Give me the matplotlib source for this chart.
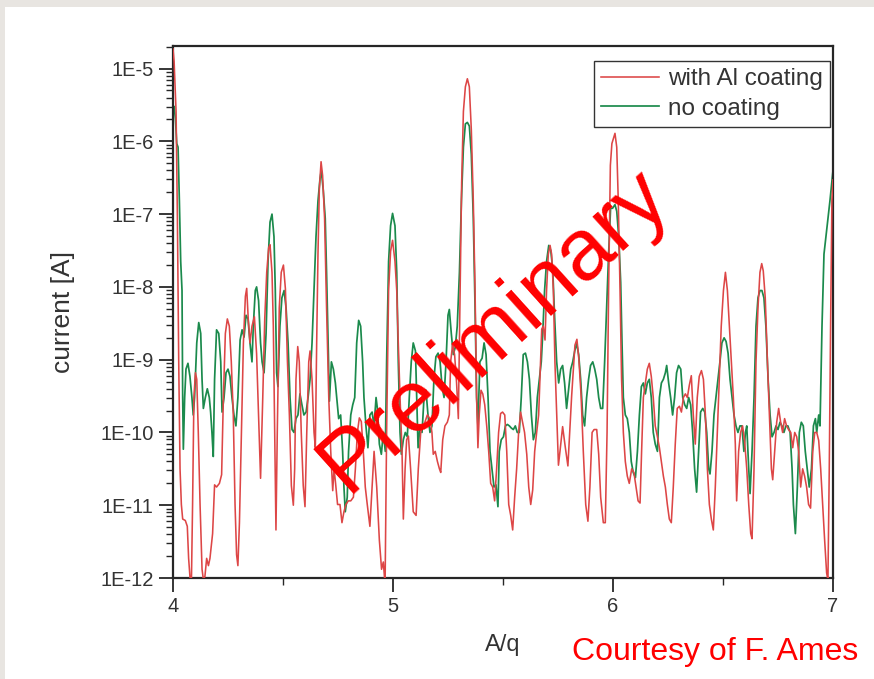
import numpy as np
import matplotlib
matplotlib.use("Agg")
import matplotlib.pyplot as plt
from matplotlib.patches import Rectangle

plt.rcParams['font.family'] = ['Liberation Sans', 'DejaVu Sans']

# ---------------- data (A/q, log10 of current in A) ----------------
red_aq = [
    4.000, 4.005, 4.014, 4.020, 4.026, 4.032, 4.038, 4.044, 4.056, 4.065, 4.071, 4.077, 4.083, 4.089, 4.095,
    4.102, 4.108, 4.115, 4.123, 4.132, 4.138, 4.145, 4.153, 4.161, 4.168, 4.180, 4.189, 4.198, 4.211, 4.221,
    4.229, 4.238, 4.247, 4.256, 4.265, 4.274, 4.282, 4.289, 4.295, 4.302, 4.311, 4.320, 4.329, 4.335, 4.342,
    4.350, 4.359, 4.370, 4.380, 4.389, 4.398, 4.408, 4.417, 4.426, 4.435, 4.441, 4.450, 4.456, 4.462, 4.468,
    4.474, 4.483, 4.492, 4.502, 4.511, 4.520, 4.529, 4.538, 4.547, 4.553, 4.559, 4.567, 4.574, 4.583, 4.592,
    4.600, 4.608, 4.617, 4.623, 4.632, 4.641, 4.647, 4.653, 4.659, 4.665, 4.673, 4.680, 4.689, 4.698, 4.708,
    4.717, 4.726, 4.732, 4.739, 4.748, 4.759, 4.768, 4.777, 4.786, 4.797, 4.808, 4.820, 4.829, 4.838, 4.847,
    4.856, 4.865, 4.874, 4.883, 4.895, 4.905, 4.914, 4.926, 4.938, 4.948, 4.956, 4.964, 4.971, 4.980, 4.989,
    4.998,
    5.009, 5.017, 5.024, 5.032, 5.041, 5.047, 5.055, 5.062, 5.070, 5.080, 5.092, 5.105, 5.115, 5.126,
    5.135, 5.145, 5.156, 5.168, 5.177, 5.183, 5.192, 5.202, 5.211, 5.217, 5.226, 5.236, 5.247, 5.256, 5.262,
    5.271, 5.280, 5.289, 5.297, 5.305, 5.312, 5.320, 5.329, 5.338, 5.347, 5.356, 5.365, 5.373, 5.380, 5.386,
    5.392, 5.400, 5.408, 5.417, 5.426, 5.435, 5.444, 5.453, 5.462, 5.471, 5.480, 5.489, 5.498, 5.508, 5.517,
    5.526, 5.535, 5.544, 5.553, 5.562, 5.571, 5.580, 5.589, 5.598, 5.608, 5.617, 5.626, 5.635, 5.644, 5.653,
    5.662, 5.668, 5.676, 5.683, 5.691, 5.698, 5.706, 5.714, 5.721, 5.729, 5.736, 5.744, 5.752, 5.759, 5.771,
    5.783, 5.795, 5.812, 5.827, 5.836, 5.845, 5.855, 5.865, 5.876, 5.886, 5.895, 5.905, 5.914, 5.926, 5.935,
    5.944, 5.956, 5.965, 5.973, 5.980, 5.988, 5.995,
    6.009, 6.017, 6.024, 6.032, 6.039, 6.047, 6.056, 6.065, 6.074, 6.085, 6.095, 6.105, 6.114,
    6.123, 6.130, 6.138, 6.147, 6.156, 6.165, 6.174, 6.183, 6.192, 6.202, 6.211, 6.220, 6.229, 6.238, 6.247,
    6.256, 6.265, 6.274, 6.283, 6.292, 6.302, 6.311, 6.320, 6.329, 6.338, 6.347, 6.356, 6.365, 6.374, 6.383,
    6.392, 6.402, 6.411, 6.420, 6.429, 6.438, 6.447, 6.456, 6.465, 6.474, 6.483, 6.492, 6.502, 6.511, 6.520,
    6.529, 6.538, 6.547, 6.556, 6.562, 6.571, 6.580, 6.589, 6.598, 6.608, 6.617, 6.626, 6.632, 6.641, 6.650,
    6.659, 6.668, 6.676, 6.683, 6.692, 6.702, 6.711, 6.720, 6.726, 6.735, 6.744, 6.753, 6.762, 6.771, 6.780,
    6.789, 6.798, 6.808, 6.817, 6.826, 6.835, 6.844, 6.853, 6.862, 6.871, 6.880, 6.889, 6.898, 6.908, 6.917,
    6.926, 6.935, 6.944, 6.953, 6.962, 6.971, 6.977, 6.983, 6.989, 6.995, 7.000,
]
red_log_current = [
    -4.73, -4.90, -5.59, -7.06, -9.03, -10.50, -10.99, -11.19, -11.21, -11.29, -11.73, -11.98, -12.2, -10.99, -9.52,
    -9.18, -9.27, -10.0, -10.99, -11.88, -12.02, -11.98, -11.73, -11.83, -11.73, -11.39, -10.72, -10.75, -10.70, -10.58,
    -9.52, -8.64, -8.44, -8.54, -9.03, -9.76, -10.99, -11.68, -11.83, -11.24, -10.0, -8.77, -8.13, -8.02, -8.44,
    -8.77, -8.54, -8.41, -8.92, -9.76, -10.63, -9.52, -8.44, -7.80, -7.46, -7.42, -7.80, -8.54, -10.0, -11.34,
    -10.0, -8.29, -7.80, -7.70, -8.03, -9.01, -9.76, -10.73, -11.0, -10.5, -9.27, -8.82, -9.03, -10.0, -10.73,
    -11.02, -10.0, -9.03, -8.88, -9.27, -10.0, -10.21, -8.78, -7.55, -6.67, -6.28, -6.47, -7.06, -8.29, -9.52,
    -10.26, -10.80, -10.5, -10.70, -10.99, -10.99, -11.24, -11.09, -10.99, -10.94, -10.94, -10.89, -10.50, -10.0, -9.80,
    -9.85, -10.26, -10.75, -10.99, -11.29, -10.75, -10.26, -10.75, -11.48, -11.88, -11.78, -12.1, -10.0, -8.05, -7.51,
    -7.36,
    -7.65, -8.05, -8.77, -9.52, -10.26, -11.19, -10.5, -10.1, -10.05, -10.5, -11.09, -11.14, -10.5, -10.0,
    -9.91, -9.86, -9.76, -9.81, -10.0, -10.3, -10.26, -10.40, -10.5, -10.55, -10.1, -9.91, -9.86, -9.76, -9.03,
    -8.79, -8.93, -9.32, -9.81, -8.05, -6.57, -5.59, -5.25, -5.14, -5.25, -5.84, -6.82, -8.05, -9.52, -10.21,
    -9.76, -9.42, -9.47, -9.62, -9.91, -10.26, -10.70, -10.75, -10.94, -10.5, -10.0, -9.74, -9.72, -9.76, -10.26,
    -10.99, -11.14, -11.34, -10.89, -10.5, -10.0, -9.72, -9.86, -10.0, -10.3, -10.75, -10.99, -10.79, -10.26, -10.0,
    -9.76, -9.27, -8.58, -8.54, -8.73, -8.05, -7.55, -7.43, -7.55, -8.05, -9.03, -9.76, -10.45, -10.26, -9.92,
    -10.2, -10.46, -9.5, -8.8, -8.72, -9.0, -9.5, -10.26, -10.99, -11.22, -10.75, -10.0, -9.96, -9.96, -10.3,
    -10.89, -11.24, -11.24, -10.0, -8.05, -6.33, -6.03,
    -5.89, -6.08, -6.82, -8.05, -9.27, -10.0, -10.4, -10.6, -10.7, -10.5, -10.55, -10.75, -10.94,
    -10.97, -10.26, -9.52, -9.32, -9.13, -9.05, -9.23, -9.52, -9.91, -10.06, -10.21, -10.4, -10.6, -10.75, -10.99,
    -11.19, -11.24, -10.75, -10.16, -9.67, -9.64, -9.72, -9.52, -9.47, -9.52, -9.35, -9.22, -9.76, -10.16, -9.52,
    -9.23, -9.15, -9.27, -9.76, -10.5, -10.99, -11.19, -11.34, -10.75, -10.0, -9.27, -8.54, -8.05, -7.80, -8.05,
    -8.54, -9.03, -9.52, -10.16, -10.94, -10.26, -10.0, -9.91, -10.11, -10.5, -10.99, -11.39, -11.46, -10.5, -9.03,
    -8.29, -7.80, -7.68, -7.78, -8.15, -9.03, -9.76, -10.5, -10.65, -10.26, -9.86, -9.67, -9.86, -10.0, -9.81,
    -9.91, -9.96, -10.0, -10.21, -10.0, -10.06, -10.26, -10.75, -10.5, -10.6, -10.75, -10.99, -11.04, -10.26, -10.0,
    -10.0, -10.11, -10.5, -10.99, -11.48, -11.93, -12.03, -10.5, -8.54, -6.82, -6.53,
]

green_aq = [
    4.000, 4.005, 4.011, 4.017, 4.023, 4.029, 4.035, 4.041, 4.044, 4.047, 4.053, 4.059, 4.068, 4.077, 4.086,
    4.092, 4.098, 4.108, 4.117, 4.126, 4.132, 4.138, 4.147, 4.156, 4.165, 4.171, 4.177, 4.183, 4.189, 4.198,
    4.208, 4.217, 4.223, 4.232, 4.241, 4.250, 4.259, 4.268, 4.277, 4.286, 4.295, 4.305, 4.314, 4.323, 4.332,
    4.341, 4.350, 4.359, 4.365, 4.374, 4.380, 4.389, 4.398, 4.405, 4.414, 4.423, 4.432, 4.441, 4.450, 4.459,
    4.465, 4.471, 4.477, 4.486, 4.495, 4.505, 4.514, 4.523, 4.532, 4.541, 4.550, 4.559, 4.568, 4.577, 4.586,
    4.595, 4.605, 4.614, 4.623, 4.632, 4.641, 4.650, 4.659, 4.668, 4.674, 4.683, 4.692, 4.698, 4.705, 4.711,
    4.720, 4.729, 4.738, 4.744, 4.753, 4.762, 4.771, 4.777, 4.783, 4.792, 4.798, 4.808, 4.817, 4.826, 4.835,
    4.844, 4.853, 4.862, 4.868, 4.877, 4.886, 4.895, 4.905, 4.914, 4.923, 4.929, 4.938, 4.947, 4.956, 4.965,
    4.971, 4.980, 4.989, 4.998,
    5.009, 5.017, 5.024, 5.032, 5.038, 5.047, 5.056, 5.065, 5.074, 5.083, 5.092, 5.102, 5.108, 5.114,
    5.123, 5.132, 5.141, 5.150, 5.159, 5.168, 5.177, 5.186, 5.195, 5.205, 5.214, 5.223, 5.232, 5.241, 5.250,
    5.256, 5.265, 5.274, 5.283, 5.292, 5.302, 5.311, 5.320, 5.329, 5.338, 5.347, 5.356, 5.365, 5.373, 5.380,
    5.386, 5.395, 5.405, 5.414, 5.423, 5.432, 5.441, 5.450, 5.459, 5.468, 5.477, 5.483, 5.492, 5.502, 5.511,
    5.520, 5.529, 5.538, 5.547, 5.556, 5.565, 5.574, 5.583, 5.592, 5.602, 5.611, 5.620, 5.629, 5.638, 5.647,
    5.656, 5.665, 5.674, 5.680, 5.689, 5.698, 5.708, 5.717, 5.726, 5.735, 5.744, 5.753, 5.762, 5.771, 5.780,
    5.789, 5.798, 5.808, 5.817, 5.826, 5.835, 5.844, 5.853, 5.862, 5.871, 5.880, 5.889, 5.898, 5.908, 5.917,
    5.926, 5.935, 5.944, 5.953, 5.962, 5.971, 5.980, 5.989, 5.998,
    6.009, 6.017, 6.026, 6.035, 6.041, 6.047, 6.056, 6.065, 6.074, 6.083, 6.092, 6.102, 6.111,
    6.120, 6.129, 6.138, 6.147, 6.156, 6.165, 6.174, 6.183, 6.192, 6.202, 6.211, 6.220, 6.229, 6.238, 6.244,
    6.253, 6.262, 6.271, 6.280, 6.289, 6.298, 6.308, 6.317, 6.326, 6.335, 6.344, 6.353, 6.362, 6.371, 6.380,
    6.389, 6.398, 6.408, 6.417, 6.426, 6.435, 6.441, 6.450, 6.459, 6.468, 6.477, 6.486, 6.495, 6.505, 6.514,
    6.523, 6.532, 6.541, 6.550, 6.559, 6.568, 6.577, 6.586, 6.595, 6.602, 6.608, 6.617, 6.623, 6.632, 6.641,
    6.650, 6.659, 6.668, 6.677, 6.686, 6.695, 6.705, 6.714, 6.723, 6.732, 6.741, 6.750, 6.759, 6.768, 6.777,
    6.786, 6.795, 6.805, 6.814, 6.820, 6.829, 6.838, 6.847, 6.856, 6.865, 6.874, 6.883, 6.892, 6.902, 6.911,
    6.920, 6.926, 6.935, 6.941, 6.950, 6.959, 6.968, 6.977, 6.986, 7.000,
]
green_log_current = [
    -5.54, -5.52, -5.69, -6.03, -6.08, -6.82, -7.65, -8.05, -9.52, -10.23, -9.52, -9.13, -9.05, -9.23, -9.52,
    -9.76, -9.52, -8.77, -8.49, -8.64, -9.27, -9.67, -9.52, -9.40, -9.52, -9.72, -10.0, -10.33, -9.27, -8.59,
    -8.64, -9.03, -9.72, -9.52, -9.18, -9.13, -9.23, -9.52, -9.76, -9.91, -9.52, -8.73, -8.59, -8.69, -8.39,
    -8.44, -8.77, -9.03, -8.54, -8.05, -8.0, -8.19, -8.77, -9.03, -9.18, -8.64, -7.65, -7.11, -7.0, -7.31,
    -8.05, -9.18, -9.37, -8.54, -8.15, -8.05, -8.29, -8.77, -9.52, -9.96, -10.0, -9.81, -9.76, -9.47, -9.62,
    -9.76, -9.72, -9.52, -9.27, -8.77, -8.05, -7.31, -6.82, -6.52, -6.40, -6.67, -7.06, -7.80, -8.77, -9.57,
    -9.03, -9.13, -9.32, -9.52, -9.81, -9.76, -10.26, -10.75, -11.09, -10.89, -10.26, -9.76, -9.62, -9.52, -8.77,
    -8.46, -8.54, -9.03, -9.52, -9.91, -10.21, -9.76, -9.72, -9.91, -9.52, -9.67, -10.16, -10.30, -10.0, -10.26,
    -9.03, -7.65, -7.16, -6.99,
    -7.16, -7.80, -9.03, -10.0, -10.30, -10.1, -10.0, -10.06, -9.52, -9.03, -8.77, -8.88, -9.52, -10.21,
    -9.91, -10.0, -9.52, -9.42, -9.76, -10.0, -9.91, -9.27, -8.96, -8.91, -9.03, -9.37, -9.52, -9.03, -8.39,
    -8.31, -8.64, -8.93, -8.83, -8.54, -7.80, -6.82, -6.08, -5.76, -5.74, -5.79, -6.18, -7.06, -8.29, -9.52,
    -9.91, -9.03, -8.98, -8.77, -8.93, -9.52, -10.26, -10.5, -10.75, -10.72, -11.02, -10.26, -10.1, -10.06, -9.91,
    -9.89, -9.91, -9.94, -9.96, -9.91, -10.0, -10.0, -9.52, -8.93, -8.91, -9.03, -9.27, -9.76, -10.1, -10.0,
    -9.52, -9.27, -9.03, -8.68, -8.05, -7.65, -7.43, -7.50, -7.75, -8.44, -9.03, -9.32, -9.13, -9.08, -9.32,
    -9.67, -9.42, -9.13, -9.03, -8.88, -8.78, -8.93, -9.27, -9.76, -9.91, -9.52, -9.27, -9.08, -9.03, -9.13,
    -9.27, -9.52, -9.67, -9.67, -9.03, -8.29, -7.55, -6.92, -6.92,
    -6.87, -6.96, -7.31, -7.94, -8.77, -9.52, -9.76, -9.81, -10.0, -10.40, -10.55, -10.62, -10.26,
    -9.76, -9.37, -9.32, -9.47, -9.32, -9.27, -9.52, -10.0, -10.16, -10.26, -9.52, -9.32, -9.27, -9.18, -9.08,
    -9.32, -9.52, -9.76, -9.52, -9.18, -9.08, -9.13, -9.52, -9.62, -9.67, -9.52, -9.62, -10.0, -10.5, -10.82,
    -10.26, -9.72, -9.67, -9.72, -10.0, -10.5, -10.57, -10.26, -9.76, -9.52, -9.27, -9.03, -8.77, -8.70, -8.75,
    -8.91, -9.27, -9.52, -9.76, -9.91, -10.0, -9.91, -9.91, -10.26, -10.0, -9.91, -10.5, -10.84, -10.26, -9.52,
    -8.54, -8.15, -8.05, -8.05, -8.15, -8.54, -9.27, -9.76, -10.06, -10.0, -9.91, -9.96, -9.86, -9.91, -10.0,
    -9.91, -9.91, -10.0, -10.5, -10.99, -11.39, -10.75, -10.0, -9.86, -9.91, -10.26, -10.5, -10.75, -10.5, -9.91,
    -9.81, -10.0, -9.76, -9.91, -8.54, -7.55, -7.31, -7.06, -6.82, -6.40,
]

series_labels = ["with Al coating", "no coating"]
x_ticks = [4, 5, 6, 7]
y_tick_exponents = [-12, -11, -10, -9, -8, -7, -6, -5]
y_tick_labels = ["1E-12", "1E-11", "1E-10", "1E-9", "1E-8", "1E-7", "1E-6", "1E-5"]

# ---------------- figure ----------------
W, H = 874, 679
fig = plt.figure(figsize=(W / 100, H / 100), dpi=100, facecolor="#e8e5e1")
fig.patches.append(Rectangle((5 / W, 0), 1 - 5 / W, 1 - 7 / H, transform=fig.transFigure,
                             facecolor="white", edgecolor="none", zorder=-10))

ax = fig.add_axes([173 / W, 1 - 578 / H, (833 - 173) / W, (578 - 46) / H])
ax.set_facecolor("white")

red_c = "#dd4646"
green_c = "#1b8a4c"
ax.plot(red_aq, np.power(10.0, red_log_current), color=red_c, lw=1.15, label=series_labels[0], zorder=3)
ax.plot(green_aq, np.power(10.0, green_log_current), color=green_c, lw=1.25, label=series_labels[1], zorder=2)

ax.set_yscale("log")
ax.set_xlim(4, 7)
ax.set_ylim(1e-12, 10 ** -4.69)

ax.set_xticks(x_ticks)
ax.set_xticklabels([str(t) for t in x_ticks])
ax.set_xticks([4.5, 5.5, 6.5], minor=True)
ax.set_yticks([10.0 ** e for e in y_tick_exponents])
ax.set_yticklabels(y_tick_labels)
ax.yaxis.set_minor_locator(matplotlib.ticker.LogLocator(base=10, subs=np.arange(2, 10), numticks=100))
ax.yaxis.set_minor_formatter(matplotlib.ticker.NullFormatter())

for s in ax.spines.values():
    s.set_linewidth(1.6)
    s.set_color("#262626")

ax.tick_params(axis="both", which="major", direction="out", length=10, width=1.3,
               color="#262626", labelsize=14.5, labelcolor="#333333", pad=4)
ax.tick_params(axis="both", which="minor", direction="out", length=5, width=1.0, color="#262626")
ax.tick_params(top=False, right=False, which="both")

ax.set_xlabel("A/q", fontsize=17, color="#333333")
ax.set_ylabel("current [A]", fontsize=19, color="#333333")
ax.xaxis.set_label_coords(0.5, -0.106)
ax.yaxis.set_label_coords(-0.148, 0.5)

leg = ax.legend(loc="upper right", bbox_to_anchor=(0.9955, 0.972), fontsize=17.5,
                frameon=True, fancybox=False, edgecolor="#333333", framealpha=1,
                handlelength=2.4, handletextpad=0.35, labelspacing=0.3, borderpad=0.3,
                borderaxespad=0)
leg.get_frame().set_linewidth(1.0)
for t in leg.get_texts():
    t.set_color("#333333")

ax.text(0.487, 0.466, "Preliminary", transform=ax.transAxes, rotation=42,
        rotation_mode="anchor", ha="center", va="center", fontsize=63, color="#ff0000", zorder=5)

fig.text(715 / W, 1 - 652 / H, "Courtesy of F. Ames", ha="center", va="center",
         fontsize=23, color="#ff0000")

fig.savefig("out.png", dpi=100, facecolor=fig.get_facecolor())
